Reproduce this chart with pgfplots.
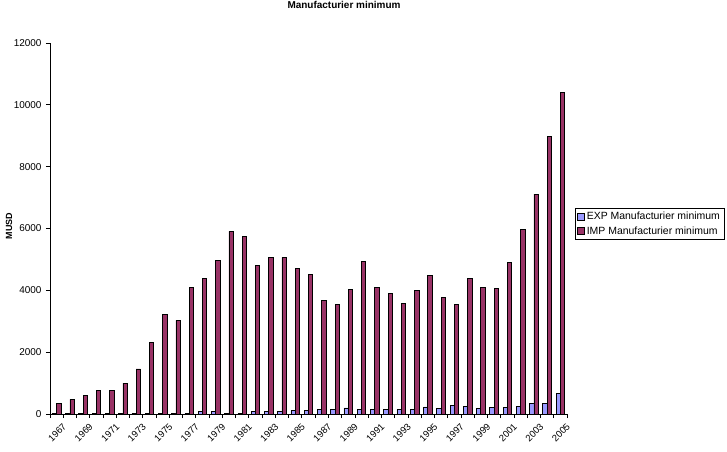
\documentclass[border=0pt]{standalone}
\usepackage{pgfplots}
\usepackage{pgfplotstable}
\usepackage{fontspec}
\setmainfont{Liberation Sans}
\pgfplotsset{compat=1.18}

\definecolor{expcol}{HTML}{9999FF}
\definecolor{impcol}{HTML}{993366}

% idx year exp imp (MUSD)
\pgfplotstableread{
idx year exp imp
0 1967 5 345
1 1968 5 475
2 1969 8 605
3 1970 20 770
4 1971 10 770
5 1972 15 1000
6 1973 30 1460
7 1974 30 2320
8 1975 30 3230
9 1976 30 3030
10 1977 30 4100
11 1978 75 4390
12 1979 75 4980
13 1980 20 5910
14 1981 30 5750
15 1982 75 4810
16 1983 75 5070
17 1984 75 5070
18 1985 108 4710
19 1986 105 4520
20 1987 140 3680
21 1988 140 3550
22 1989 195 4040
23 1990 140 4940
24 1991 140 4100
25 1992 160 3910
26 1993 140 3580
27 1994 140 4000
28 1995 230 4490
29 1996 190 3780
30 1997 285 3550
31 1998 255 4390
32 1999 190 4100
33 2000 225 4070
34 2001 225 4910
35 2002 255 5980
36 2003 350 7110
37 2004 350 8990
38 2005 675 10410
}\datatable

\begin{document}
\begin{tikzpicture}
\path[use as bounding box] (-50bp,-38bp) rectangle (677bp,414bp);
\begin{axis}[
  at={(0,0)}, anchor=south west,
  scale only axis,
  width=517bp, height=371bp,
  ybar=0pt, bar width=4.3bp,
  xmin=-0.5, xmax=38.5,
  ymin=0, ymax=12000,
  axis lines*=left,
  axis line style={line width=0.8bp},
  tick align=outside,
  major tick length=0pt,
  minor tick length=4bp,
  tick style={line width=0.8bp, black},
  ytick={0,2000,...,12000},
  minor ytick={0,2000,...,12000},
  scaled y ticks=false,
  xtick={0,2,...,38},
  xticklabels={1967,1969,1971,1973,1975,1977,1979,1981,1983,1985,1987,1989,1991,1993,1995,1997,1999,2001,2003,2005},
  minor xtick={-0.5,0.5,...,38.5},
  x tick label style={font=\fontsize{9.5}{10}\selectfont, rotate=45, anchor=north east, inner sep=1bp, xshift=-1bp, yshift=-9bp},
  y tick label style={font=\fontsize{10}{11}\selectfont, xshift=-5bp},
  /pgf/number format/.cd, 1000 sep={}, assume math mode=true,
  /pgfplots/.cd,
  legend style={at={(rel axis cs:1.0155,0.555)}, anchor=north west,
    draw=black, line width=0.6bp, font=\fontsize{10.5}{12}\selectfont,
    inner sep=2bp, row sep=1bp},
  legend cell align=left,
  legend image code/.code={\draw[#1,line width=0.5bp] (0bp,-3.5bp) rectangle (7bp,3.5bp);},
]
\addplot[draw=black, line width=0.7bp, fill=expcol] table[x=idx, y=exp] {\datatable};
\addplot[draw=black, line width=0.7bp, fill=impcol] table[x=idx, y=imp] {\datatable};
\legend{EXP Manufacturier minimum, IMP Manufacturier minimum}
\end{axis}
\node[font=\fontsize{10}{12}\selectfont\bfseries] at (294bp,409bp) {Manufacturier minimum};
\node[font=\fontsize{9}{10}\selectfont\bfseries, rotate=90] at (-41bp,188bp) {MUSD};
\end{tikzpicture}
\end{document}
